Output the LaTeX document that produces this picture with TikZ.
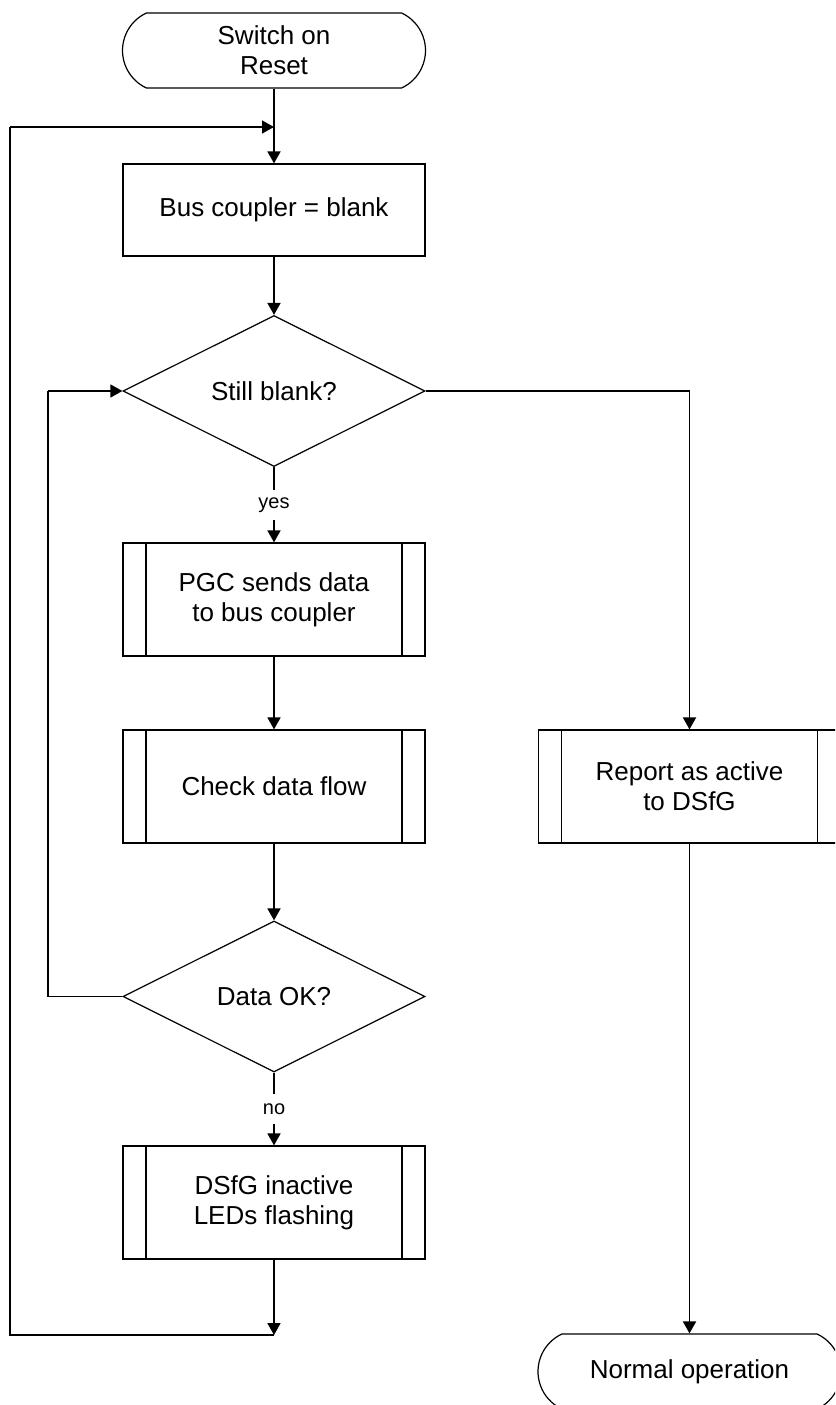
\documentclass[tikz,border=0pt]{standalone}
\usepackage{fontspec}
\setmainfont{Liberation Sans}
\usetikzlibrary{shapes.geometric,shapes.misc,arrows.meta}
\begin{document}
\begin{tikzpicture}[x=1pt,y=-1pt,
 base/.style={draw,line width=1.2pt,inner sep=0pt,align=center,font=\fontsize{26}{30}\selectfont},
 term/.style={base,rounded rectangle,rounded rectangle arc length=130,minimum width=303pt,minimum height=75pt},
 proc/.style={base,rectangle,minimum width=302pt,minimum height=92pt},
 sub/.style={base,rectangle,minimum width=302pt,minimum height=113pt,
   path picture={\draw[line width=1.2pt] ([xshift=23pt]path picture bounding box.north west) -- ([xshift=23pt]path picture bounding box.south west);
   \draw[line width=1.2pt] ([xshift=-23pt]path picture bounding box.north east) -- ([xshift=-23pt]path picture bounding box.south east);}},
 dec/.style={base,diamond,minimum width=302pt,minimum height=151pt},
 flow/.style={line width=1.8pt,-{Triangle[length=12pt,width=13pt]}},
 loopline/.style={line width=1.3pt},
 lbl/.style={fill=white,inner sep=0pt,minimum height=30pt,font=\fontsize{20}{24}\selectfont}
]
\useasboundingbox (0,0) rectangle (835,1405);
\clip (0,0) rectangle (835,1405);

\node[term] (start) at (274,50.5) {Switch on\\Reset};
\node[proc] (bus) at (274,210) {Bus coupler = blank};
\node[dec] (blank) at (274,391) {Still blank?};
\node[sub] (pgc) at (274,599.5) {PGC sends data\\to bus coupler};
\node[sub] (check) at (274,786.5) {Check data flow};
\node[dec] (ok) at (274,996.5) {Data OK?};
\node[sub] (dsfg) at (274,1202.5) {DSfG inactive\\LEDs flashing};
\node[sub] (report) at (689.5,786.5) {Report as active\\to DSfG};
\node[term] (normal) at (689.5,1371.5) {Normal operation};

\coordinate (lt) at (274,127);
\coordinate (lb) at (274,1335);
\coordinate (lbl) at (10,1335);
\coordinate (ltl) at (10,127);
\coordinate (rt) at (689.5,391);
\coordinate (ib) at (48,996.5);
\coordinate (it) at (48,391);

\draw[flow] (start.south) -- (bus.north);
\draw[flow] (bus.south) -- (blank.north);
\draw[flow] (blank.south) -- node[lbl]{yes} (pgc.north);
\draw[flow] (pgc.south) -- (check.north);
\draw[flow] (check.south) -- (ok.north);
\draw[flow] (ok.south) -- node[lbl]{no} (dsfg.north);
\draw[flow] (dsfg.south) -- (lb);
\draw[loopline] (lb) -- (lbl) -- (ltl);
\draw[loopline,-{Triangle[length=12pt,width=13pt]}] (ltl) -- (lt);
\draw[loopline] (blank.east) -- (rt);
\draw[flow] (rt) -- (report.north);
\draw[flow] (report.south) -- (normal.north);
\draw[loopline] (ok.west) -- (ib) -- (it);
\draw[loopline,-{Triangle[length=12pt,width=13pt]}] (it) -- (blank.west);
\end{tikzpicture}
\end{document}
